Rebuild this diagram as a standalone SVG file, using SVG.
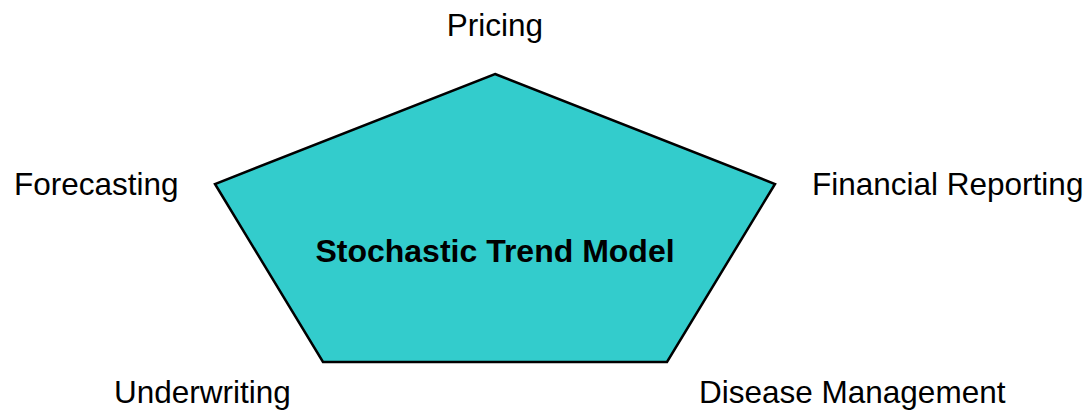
<svg xmlns="http://www.w3.org/2000/svg" width="1088" height="410" viewBox="0 0 1088 410">
<style>
.lbl{font-family:"Liberation Sans",Arial,sans-serif;font-size:31.5px;fill:#000}
.title{font-family:"Liberation Sans",Arial,sans-serif;font-size:32px;font-weight:bold;fill:#000}
</style>
<rect width="1088" height="410" fill="#fff"/>
<g id="pentagon">
<polygon points="495,74 775,184 667,362 323,362 215,184" fill="#33CCCC" stroke="#000" stroke-width="2.5" stroke-linejoin="miter"/>
<text class="title" x="495" y="262" text-anchor="middle">Stochastic Trend Model</text>
</g>
<g id="connectors"></g>
<g id="pricing"><text class="lbl" x="495" y="36" text-anchor="middle">Pricing</text></g>
<g id="forecasting"><text class="lbl" x="14" y="195">Forecasting</text></g>
<g id="financial-reporting"><text class="lbl" x="812" y="195">Financial Reporting</text></g>
<g id="underwriting"><text class="lbl" x="114" y="403">Underwriting</text></g>
<g id="disease-management"><text class="lbl" x="699" y="403">Disease Management</text></g>
</svg>
